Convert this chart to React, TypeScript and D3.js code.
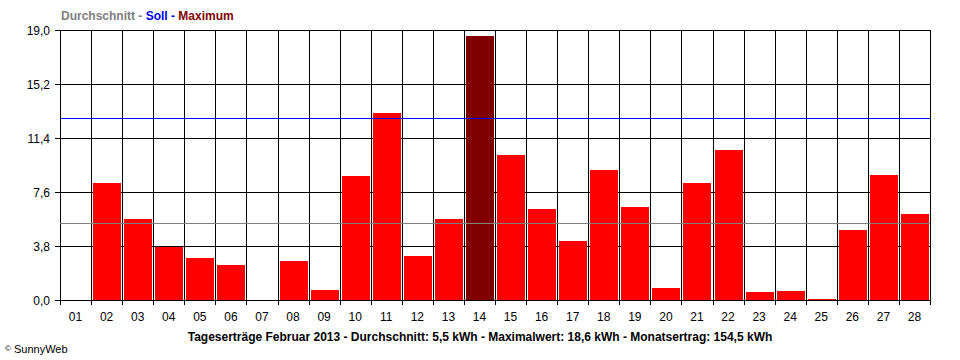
import React from "react";
import * as d3 from "d3";

// Tageserträge Februar 2013 (kWh)
const days = ["01", "02", "03", "04", "05", "06", "07", "08", "09", "10", "11", "12", "13", "14",
    "15", "16", "17", "18", "19", "20", "21", "22", "23", "24", "25", "26", "27", "28"];
const yields = [0, 8.23, 5.7, 3.75, 2.96, 2.46, 0, 2.74, 0.7, 8.73, 13.16, 3.1, 5.7, 18.6,
    10.2, 6.4, 4.15, 9.15, 6.54, 0.84, 8.23, 10.56, 0.56, 0.63, 0.07, 4.93, 8.8, 6.05];
const yTicks = [0, 3.8, 7.6, 11.4, 15.2, 19.0];
const average = 5.4;
const target = 12.8;
const title = "Tageserträge Februar 2013 - Durchschnitt: 5,5 kWh - Maximalwert: 18,6 kWh - Monatsertrag: 154,5 kWh";

const width = 960;
const height = 360;
const left = 60;
const right = 930;
const top = 30;
const bottom = 300;
const font = "'Liberation Sans', Arial, sans-serif";

const App = () => {
    const x = d3.scaleBand<string>().domain(days).range([left, right]).padding(0);
    const y = d3.scaleLinear().domain([0, 19]).range([bottom, top]);
    const step = x.step();
    const maxVal = d3.max(yields) ?? 0;
    const fmt = (v: number) => v.toFixed(1).replace(".", ",");
    const edges = d3.range(days.length + 1).map(i => Math.round(left + i * step) + 0.5);

    return (
        <svg width={width} height={height} style={{ position: "absolute", left: 0, top: 0, background: "#fff" }}
            fontFamily={font}>
            {/* legend */}
            <text x={61} y={20} fontSize={12} fontWeight="bold">
                <tspan fill="#808080">Durchschnitt - </tspan>
                <tspan fill="#0000ff">Soll - </tspan>
                <tspan fill="#800000">Maximum</tspan>
            </text>

            {/* horizontal grid + y labels */}
            {yTicks.map(t => {
                const yy = Math.round(y(t)) + 0.5;
                return <g key={t}>
                    <line x1={55} x2={right} y1={yy} y2={yy} stroke="#000" shapeRendering="crispEdges" />
                    <text x={50} y={yy + 4} fontSize={12} textAnchor="end">{fmt(t)}</text>
                </g>;
            })}

            {/* vertical grid */}
            {edges.map((ex, i) => (
                <line key={i} x1={ex} x2={ex} y1={top} y2={bottom + 5} stroke="#000" shapeRendering="crispEdges" />
            ))}

            {/* bars */}
            {yields.map((v, i) => {
                if (v <= 0) return null;
                const x0 = Math.round(x(days[i]) ?? 0);
                const y0 = Math.round(y(v));
                return <rect key={i} x={x0 + 2} y={y0} width={Math.round(step) - 3} height={bottom - y0}
                    fill={v === maxVal ? "#800000" : "#ff0000"} shapeRendering="crispEdges" />;
            })}

            {/* average + target */}
            <line x1={left} x2={right} y1={Math.round(y(average)) + 0.5} y2={Math.round(y(average)) + 0.5}
                stroke="#808080" shapeRendering="crispEdges" />
            <line x1={left} x2={right} y1={Math.round(y(target)) + 0.5} y2={Math.round(y(target)) + 0.5}
                stroke="#0000ff" shapeRendering="crispEdges" />

            <line x1={left} x2={right} y1={bottom + 0.5} y2={bottom + 0.5} stroke="#000" shapeRendering="crispEdges" />

            {/* x labels */}
            {days.map(d => (
                <text key={d} x={(x(d) ?? 0) + step / 2} y={321} fontSize={12} textAnchor="middle">{d}</text>
            ))}

            <text x={480} y={341} fontSize={12} fontWeight="bold" textAnchor="middle">{title}</text>
            <text x={5} y={353} fontSize={11}>
                <tspan fontSize={8} dy={-2}>©</tspan>
                <tspan dy={2}> SunnyWeb</tspan>
            </text>
        </svg>
    );
};

export default App;
